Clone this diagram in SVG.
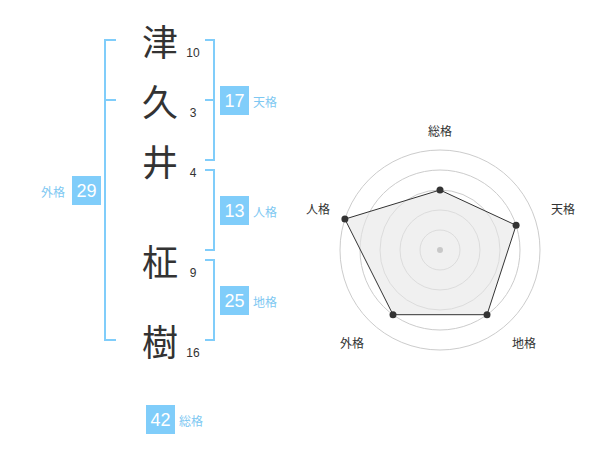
<svg xmlns="http://www.w3.org/2000/svg" width="600" height="470" viewBox="0 0 600 470">
<style>
.ch{font-family:"Noto Sans CJK JP","Noto Sans CJK SC",sans-serif;font-size:36px;fill:#333;text-anchor:middle;dominant-baseline:central}
.num{font-family:"Liberation Sans",Arial,sans-serif;font-size:12px;fill:#333;text-anchor:middle}
.box{fill:#80cdfa}
.bn{font-family:"Liberation Sans",Arial,sans-serif;font-size:18px;fill:#fff;text-anchor:middle}
.lb{font-family:"Noto Sans CJK JP","Noto Sans CJK SC",sans-serif;font-size:12px;fill:#7ec8f2;dominant-baseline:central}
.br{fill:none;stroke:#80cdfa;stroke-width:2}
.ring{fill:none;stroke:#cccccc;stroke-width:1}
.rl{font-family:"Noto Sans CJK JP","Noto Sans CJK SC",sans-serif;font-size:12px;fill:#333;text-anchor:middle;dominant-baseline:central}
.pt{fill:#333}
</style>
<g id="connectors">
<path class="br" d="M116,40 H105 V340 H116 M105,100 H116"/>
<path class="br" d="M205,40 H214 V160 H205 M205,100 H214"/>
<path class="br" d="M205,170 H214 V250 H205"/>
<path class="br" d="M205,260 H214 V340 H205"/>
</g>
<g id="char1"><text class="ch" x="160" y="40">津</text><text class="num" x="193" y="57">10</text></g>
<g id="char2"><text class="ch" x="160" y="100">久</text><text class="num" x="193" y="117">3</text></g>
<g id="char3"><text class="ch" x="160" y="160">井</text><text class="num" x="193" y="177">4</text></g>
<g id="char4"><text class="ch" x="160" y="260">柾</text><text class="num" x="193" y="277">9</text></g>
<g id="char5"><text class="ch" x="160" y="340">樹</text><text class="num" x="193" y="357">16</text></g>
<g id="tenkaku"><rect class="box" x="220" y="86" width="29" height="29"/><text class="bn" x="234.5" y="107">17</text><text class="lb" x="253" y="101">天格</text></g>
<g id="jinkaku"><rect class="box" x="220" y="196" width="29" height="29"/><text class="bn" x="234.5" y="217">13</text><text class="lb" x="253" y="211">人格</text></g>
<g id="chikaku"><rect class="box" x="220" y="286" width="29" height="29"/><text class="bn" x="234.5" y="307">25</text><text class="lb" x="253" y="301">地格</text></g>
<g id="gaikaku"><rect class="box" x="72" y="176" width="29" height="29"/><text class="bn" x="86.5" y="197">29</text><text class="lb" x="41" y="191">外格</text></g>
<g id="soukaku"><rect class="box" x="146" y="405" width="29" height="29"/><text class="bn" x="160.5" y="426">42</text><text class="lb" x="179" y="420">総格</text></g>
<g id="radar">
<circle class="ring" cx="440" cy="250" r="20"/>
<circle class="ring" cx="440" cy="250" r="40"/>
<circle class="ring" cx="440" cy="250" r="60"/>
<circle class="ring" cx="440" cy="250" r="80"/>
<circle class="ring" cx="440" cy="250" r="100"/>
<polygon points="440,190 516.1,225.3 487,314.7 393,314.7 344.9,219.1" fill="#e6e6e6" fill-opacity="0.6" stroke="#333" stroke-width="1"/>
<circle cx="440" cy="250" r="3" fill="#c8c8c8"/>
<circle class="pt" cx="440" cy="190" r="3.5"/>
<circle class="pt" cx="516.1" cy="225.3" r="3.5"/>
<circle class="pt" cx="487" cy="314.7" r="3.5"/>
<circle class="pt" cx="393" cy="314.7" r="3.5"/>
<circle class="pt" cx="344.9" cy="219.1" r="3.5"/>
<text class="rl" x="440" y="130">総格</text>
<text class="rl" x="563" y="208">天格</text>
<text class="rl" x="524" y="342">地格</text>
<text class="rl" x="352" y="342">外格</text>
<text class="rl" x="318" y="208">人格</text>
</g>
</svg>
